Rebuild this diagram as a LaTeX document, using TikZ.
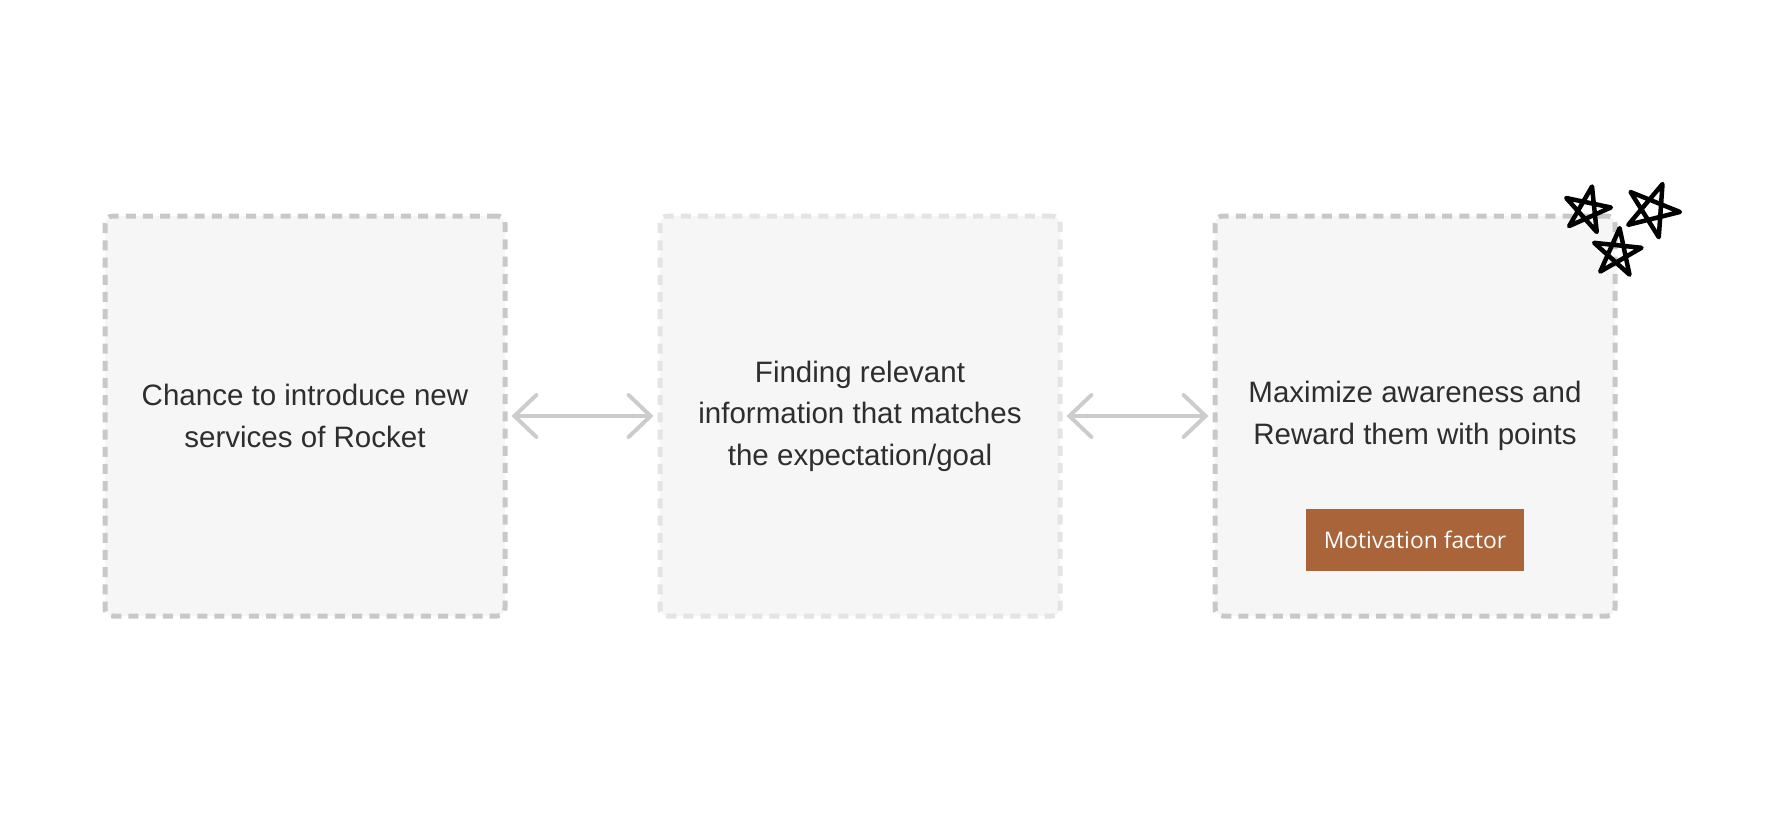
\documentclass[tikz,border=0pt]{standalone}
\usepackage{fontspec}
\setmainfont{Liberation Sans}
\newfontfamily\tagfont{Open Sans}
\usepackage{xcolor}
\usetikzlibrary{arrows.meta,positioning}
\definecolor{boxfill}{HTML}{F6F6F6}
\definecolor{dashgray}{HTML}{C8C8C8}
\definecolor{dashlight}{HTML}{E4E4E4}
\definecolor{arrowgray}{HTML}{CCCCCC}
\definecolor{textgray}{HTML}{2E2E2E}
\definecolor{rust}{HTML}{A9643A}
\tikzset{
  stage/.style={draw=dashgray, fill=boxfill, line width=0.05cm, dash pattern=on 0.1cm off 0.072cm,
    rounded corners=0.08cm, minimum width=4cm, minimum height=4cm, align=center,
    text=textgray, font=\fontsize{8.4pt}{11.8pt}\selectfont},
  faint/.style={draw=dashlight},
  tagbox/.style={fill=rust, text=white, minimum width=2.18cm, minimum height=0.62cm,
    inner sep=0pt, font=\tagfont\fontsize{6.5pt}{8pt}\selectfont},
  link/.style={draw=arrowgray, line width=0.04cm,
    {Straight Barb[length=0.22cm, width=0.42cm, line cap=round]}-{Straight Barb[length=0.22cm, width=0.42cm, line cap=round]},
    shorten <=0.04cm, shorten >=0.04cm},
  doodle/.style={draw=black, line width=0.045cm, line join=round, line cap=round},
}
\begin{document}
\begin{tikzpicture}[node distance=8mm and 1.50cm]
  \useasboundingbox (0,0) rectangle (17.92,8.30);

  \node[stage] (chance) at (3.05,4.14) {Chance to introduce new\\services of Rocket};
  \node[stage, faint, right=of chance] (finding) {Finding relevant\\information that matches\\the expectation/goal};
  \node[stage, right=of finding] (reward) {Maximize awareness and\\Reward them with points};

  \node[tagbox, yshift=-1.24cm] (motiv) at (reward) {Motivation factor};

  \draw[link] (chance) -- (finding);
  \draw[link] (finding) -- (reward);

  % stars on the corner
  \foreach \cx/\cy/\r/\rot in {15.87/6.20/0.24/-12, 16.52/6.20/0.28/-22, 16.17/5.77/0.25/-6}{
    \draw[doodle, shift={(\cx,\cy)}, rotate=\rot]
      (90:\r) -- (234:\r) -- (18:\r) -- (162:\r) -- (306:\r) -- cycle;
  }
\end{tikzpicture}
\end{document}
